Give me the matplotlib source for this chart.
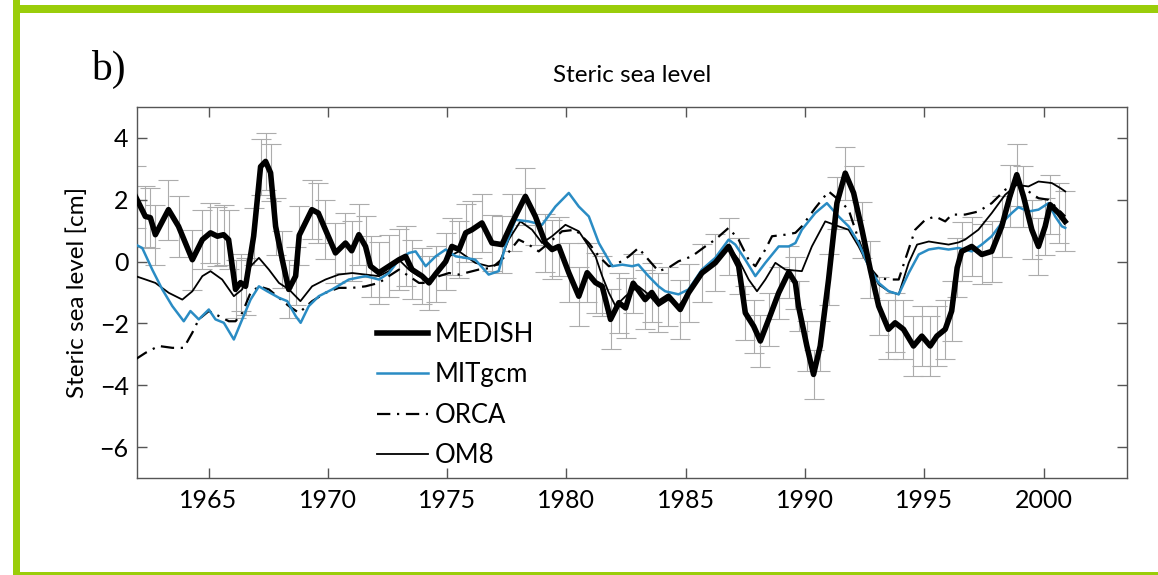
#!/usr/bin/env python3
"""Steric sea level: MEDISH (with error bars) against three ocean model runs."""
import numpy as np
import matplotlib
matplotlib.use("Agg")
import matplotlib.pyplot as plt

# ---- MEDISH (observational estimate) ----
medish_t = [1961.94, 1962.35, 1962.56, 1962.77, 1963.32, 1963.74, 1964.32, 1964.74,
            1965.08, 1965.37, 1965.63, 1965.84, 1966.13, 1966.34, 1966.55, 1966.89,
            1967.18, 1967.39, 1967.60, 1967.81, 1968.09, 1968.36, 1968.65, 1968.80,
            1969.33, 1969.60, 1969.90, 1970.32, 1970.74, 1971.00, 1971.30, 1971.58,
            1971.79, 1972.14, 1972.56, 1972.98, 1973.26, 1973.53, 1973.95, 1974.24,
            1974.52, 1974.94, 1975.20, 1975.50, 1975.78, 1976.04, 1976.46, 1976.88,
            1977.30, 1977.72, 1978.28, 1978.70, 1979.12, 1979.40, 1979.68, 1980.10,
            1980.52, 1980.87, 1981.22, 1981.50, 1981.85, 1982.20, 1982.48, 1982.80,
            1983.30, 1983.58, 1983.86, 1984.28, 1984.77, 1985.12, 1985.68, 1986.24,
            1986.80, 1987.22, 1987.50, 1987.85, 1988.13, 1988.48, 1988.90, 1989.32,
            1989.60, 1989.73, 1990.08, 1990.36, 1990.64, 1990.99, 1991.34, 1991.69,
            1992.04, 1992.39, 1992.74, 1993.09, 1993.50, 1993.78, 1994.13, 1994.55,
            1994.90, 1995.25, 1995.53, 1995.88, 1996.15, 1996.38, 1996.57, 1996.99,
            1997.41, 1997.83, 1998.25, 1998.59, 1998.88, 1999.16, 1999.51, 1999.79,
            2000.07, 2000.28, 2000.63, 2000.90]
medish_v = [2.10, 1.46, 1.42, 0.87, 1.68, 1.14, 0.06, 0.71,
            0.93, 0.82, 0.87, 0.71, -0.90, -0.68, -0.80, 0.82,
            3.07, 3.24, 2.87, 1.14, 0.06, -0.90, -0.47, 0.85,
            1.68, 1.57, 1.03, 0.28, 0.60, 0.35, 0.87, 0.49,
            -0.15, -0.36, -0.15, 0.06, 0.17, -0.26, -0.47, -0.69,
            -0.40, 0.00, 0.49, 0.39, 0.93, 1.03, 1.25, 0.60,
            0.55, 1.25, 2.11, 1.46, 0.60, 0.39, 0.49, -0.36,
            -1.12, -0.36, -0.68, -0.80, -1.87, -1.33, -1.50, -0.70,
            -1.23, -1.00, -1.33, -1.12, -1.55, -1.01, -0.37, -0.04,
            0.49, -0.15, -1.66, -2.09, -2.57, -1.87, -1.01, -0.34,
            -0.69, -1.44, -2.73, -3.65, -2.73, -0.58, 1.89, 2.86,
            2.22, 1.03, -0.26, -1.44, -2.19, -1.98, -2.19, -2.73,
            -2.41, -2.73, -2.41, -2.19, -1.60, -0.20, 0.33, 0.49,
            0.23, 0.33, 1.14, 2.11, 2.81, 2.11, 1.03, 0.49,
            1.14, 1.84, 1.57, 1.30]
medish_err = [1.00, 0.98, 0.97, 0.97, 0.97, 0.98, 0.97, 0.96,
              0.97, 0.96, 0.97, 0.95, 0.94, 0.93, 0.92, 0.92,
              0.91, 0.91, 0.92, 0.92, 0.93, 0.94, 0.95, 0.95,
              0.96, 0.96, 0.96, 0.97, 0.97, 0.97, 0.98, 0.98,
              0.98, 1.00, 1.00, 0.98, 0.97, 0.96, 0.90, 0.88,
              0.90, 0.92, 0.92, 0.93, 0.93, 0.93, 0.93, 0.92,
              0.92, 0.92, 0.92, 0.93, 0.94, 0.95, 0.96, 0.96,
              0.96, 0.96, 0.97, 0.97, 0.97, 0.97, 0.96, 0.96,
              0.95, 0.95, 0.95, 0.95, 0.95, 0.94, 0.93, 0.92,
              0.92, 0.90, 0.88, 0.86, 0.85, 0.85, 0.85, 0.84,
              0.83, 0.82, 0.81, 0.80, 0.80, 0.82, 0.84, 0.86,
              0.88, 0.90, 0.92, 0.94, 0.95, 0.96, 0.96, 0.97,
              0.97, 0.97, 0.97, 0.96, 0.96, 0.95, 0.95, 0.96,
              0.97, 0.98, 0.99, 1.00, 1.00, 0.98, 0.95, 0.91,
              0.93, 0.95, 0.96, 0.97]

# ---- MITgcm ----
mit_t = [1961.94, 1962.22, 1962.64, 1963.06, 1963.48, 1963.96, 1964.24, 1964.59,
         1965.01, 1965.29, 1965.64, 1966.06, 1966.41, 1966.76, 1967.11, 1967.46,
         1967.95, 1968.30, 1968.65, 1968.86, 1969.20, 1969.62, 1970.18, 1970.88,
         1971.58, 1972.14, 1972.56, 1972.98, 1973.40, 1973.68, 1974.10, 1974.52,
         1974.94, 1975.36, 1975.78, 1976.18, 1976.74, 1977.16, 1977.44, 1977.86,
         1978.42, 1978.98, 1979.54, 1980.10, 1980.52, 1980.94, 1981.36, 1981.92,
         1982.34, 1982.76, 1983.02, 1983.44, 1983.86, 1984.14, 1984.70, 1985.12,
         1985.68, 1986.24, 1986.80, 1987.08, 1987.50, 1987.92, 1988.34, 1988.90,
         1989.32, 1989.60, 1989.87, 1990.43, 1990.92, 1991.41, 1991.83, 1992.25,
         1992.67, 1993.09, 1993.51, 1993.93, 1994.35, 1994.77, 1995.19, 1995.60,
         1996.02, 1996.44, 1996.99, 1997.41, 1997.83, 1998.25, 1998.67, 1998.95,
         1999.37, 1999.79, 2000.21, 2000.49, 2000.77, 2000.91]
mit_v = [0.55, 0.44, -0.26, -0.90, -1.44, -1.93, -1.60, -1.87,
         -1.55, -1.87, -1.98, -2.52, -1.87, -1.23, -0.80, -0.96,
         -1.17, -1.28, -1.76, -1.98, -1.44, -1.12, -0.90, -0.58,
         -0.47, -0.58, -0.37, 0.06, 0.28, 0.33, -0.15, 0.17,
         0.39, 0.17, 0.12, 0.06, -0.42, -0.31, 0.49, 1.35,
         1.30, 1.19, 1.78, 2.22, 1.78, 1.46, 0.60, -0.15,
         -0.10, -0.15, -0.10, -0.47, -0.80, -0.96, -1.06, -0.90,
         -0.26, 0.12, 0.71, 0.55, 0.06, -0.47, -0.04, 0.49,
         0.49, 0.60, 1.03, 1.57, 1.89, 1.46, 1.14, 0.60,
         -0.15, -0.69, -0.96, -1.06, -0.37, 0.23, 0.39, 0.44,
         0.39, 0.44, 0.33, 0.55, 0.82, 1.25, 1.57, 1.76,
         1.62, 1.68, 1.89, 1.46, 1.14, 1.09]

# ---- ORCA ----
orca_t = [1961.94, 1962.36, 1962.91, 1963.48, 1963.96, 1964.32, 1964.59, 1965.01,
          1965.43, 1965.85, 1966.13, 1966.41, 1966.76, 1967.11, 1967.53, 1967.95,
          1968.37, 1968.79, 1969.34, 1969.90, 1970.46, 1971.02, 1971.58, 1972.14,
          1972.56, 1972.98, 1973.40, 1973.82, 1974.24, 1974.66, 1975.08, 1975.50,
          1976.32, 1976.88, 1977.44, 1978.00, 1978.42, 1978.84, 1979.26, 1979.82,
          1980.38, 1980.94, 1981.36, 1981.78, 1982.20, 1982.62, 1983.02, 1983.44,
          1983.86, 1984.28, 1984.70, 1985.26, 1985.82, 1986.24, 1986.80, 1987.22,
          1987.64, 1987.92, 1988.34, 1988.62, 1989.18, 1989.60, 1989.87, 1990.43,
          1990.99, 1991.41, 1991.83, 1992.25, 1992.67, 1993.09, 1993.51, 1993.93,
          1994.20, 1994.62, 1995.04, 1995.46, 1995.88, 1996.16, 1996.71, 1997.27,
          1997.83, 1998.39, 1998.88, 1999.37, 1999.79, 2000.21, 2000.63, 2000.91]
orca_v = [-3.16, -2.95, -2.73, -2.79, -2.79, -2.30, -1.87, -1.60,
          -1.76, -1.93, -1.93, -1.66, -1.01, -0.80, -0.90, -1.17,
          -1.44, -1.66, -1.28, -1.01, -0.85, -0.85, -0.80, -0.69,
          -0.47, -0.26, -0.47, -0.69, -0.69, -0.47, -0.37, -0.42,
          -0.26, -0.20, 0.17, 0.71, 0.55, 0.33, 0.60, 0.98,
          1.03, 0.60, 0.17, -0.15, -0.04, 0.17, 0.44, 0.06,
          -0.31, -0.20, 0.01, 0.17, 0.49, 0.71, 1.09, 0.71,
          0.06, -0.15, 0.39, 0.82, 0.87, 0.93, 1.14, 1.73,
          2.27, 2.00, 1.68, 0.71, -0.15, -0.53, -0.58, -0.58,
          0.06, 1.03, 1.35, 1.46, 1.30, 1.52, 1.52, 1.62,
          1.89, 2.32, 2.54, 2.27, 2.05, 2.00, 1.68, 1.46]

# ---- OM8 ----
om8_t = [1961.94, 1962.36, 1962.77, 1963.33, 1963.90, 1964.32, 1964.74, 1965.08,
         1965.57, 1966.06, 1966.41, 1966.76, 1967.11, 1967.53, 1967.95, 1968.37,
         1968.85, 1969.34, 1969.90, 1970.46, 1971.02, 1971.58, 1972.14, 1972.56,
         1972.98, 1973.40, 1973.82, 1974.24, 1974.66, 1975.08, 1975.50, 1976.18,
         1976.74, 1977.16, 1977.58, 1978.07, 1978.56, 1978.98, 1979.40, 1979.96,
         1980.52, 1980.94, 1981.22, 1981.50, 1981.78, 1982.06, 1982.48, 1983.02,
         1983.44, 1983.86, 1984.28, 1984.70, 1985.12, 1985.68, 1986.24, 1986.80,
         1987.22, 1987.64, 1987.99, 1988.34, 1988.76, 1989.18, 1989.87, 1990.29,
         1990.85, 1991.41, 1991.83, 1992.25, 1992.67, 1993.09, 1993.51, 1993.93,
         1994.35, 1994.70, 1995.19, 1995.60, 1996.02, 1996.44, 1996.71, 1997.27,
         1997.83, 1998.39, 1998.88, 1999.37, 1999.79, 2000.35, 2000.70, 2000.91]
om8_v = [-0.47, -0.58, -0.69, -1.01, -1.23, -0.96, -0.47, -0.31,
         -0.58, -1.12, -0.90, -0.15, 0.12, -0.26, -0.69, -0.90,
         -1.28, -0.80, -0.58, -0.42, -0.37, -0.42, -0.47, -0.31,
         0.06, -0.26, -0.47, -0.58, -0.26, 0.17, 0.33, -0.04,
         -0.15, -0.10, 0.71, 1.30, 1.03, 0.60, 0.82, 1.19,
         0.98, 0.49, 0.17, -0.47, -1.01, -1.44, -1.12, -0.80,
         -1.06, -1.44, -1.23, -1.44, -1.01, -0.26, 0.06, 0.49,
         0.06, -0.58, -0.96, -0.58, -0.04, -0.26, -0.31, 0.49,
         1.30, 1.14, 1.03, 0.49, -0.15, -0.74, -0.96, -1.06,
         -0.04, 0.55, 0.65, 0.60, 0.55, 0.62, 0.71, 1.03,
         1.57, 2.16, 2.48, 2.43, 2.59, 2.54, 2.38, 2.27]

xticks = [1965, 1970, 1975, 1980, 1985, 1990, 1995, 2000]
yticks = [4, 2, 0, -2, -4, -6]

plt.rcParams["font.family"] = ["Lato", "DejaVu Sans"]
plt.rcParams["axes.unicode_minus"] = True

W, H = 1158, 575
fig = plt.figure(figsize=(W / 100, H / 100), dpi=100)
fig.patch.set_facecolor("white")

# green frame around the panel
green = "#9acd0a"
fig.add_artist(plt.Rectangle((13 / W, 0), 7 / W, 1, color=green, lw=0,
                             transform=fig.transFigure))
fig.add_artist(plt.Rectangle((13 / W, 1 - 13 / H), 1, 8 / H, color=green, lw=0,
                             transform=fig.transFigure))
fig.add_artist(plt.Rectangle((13 / W, 0), 1, 3 / H, color=green, lw=0,
                             transform=fig.transFigure))

ax = fig.add_axes([137 / W, 1 - 478 / H, (1127 - 137) / W, (478 - 107) / H])

ax.errorbar(medish_t, medish_v, yerr=medish_err, fmt="none", ecolor="#acacac",
            elinewidth=0.8, capsize=7.2, capthick=0.8, zorder=1)
ax.plot(orca_t, orca_v, color="k", lw=1.6, ls=(0, (6, 3, 1, 3)), label="ORCA", zorder=3)
ax.plot(om8_t, om8_v, color="k", lw=1.3, label="OM8", zorder=3)
ax.plot(mit_t, mit_v, color="#2a8cc4", lw=1.8, label="MITgcm", zorder=4)
ax.plot(medish_t, medish_v, color="k", lw=4.0, label="MEDISH", zorder=5,
        solid_joinstyle="round")

ax.set_xlim(1962, 2003.5)
ax.set_ylim(-7, 5)
ax.set_xticks(xticks)
ax.set_yticks(yticks)
ax.tick_params(direction="in", length=7, width=1, color="#555555",
               top=True, right=True, labelsize=18)
ax.tick_params(axis="x", pad=8)
ax.tick_params(axis="y", pad=6)
for sp in ax.spines.values():
    sp.set_color("#555555")
    sp.set_linewidth(1.0)

ax.set_title("Steric sea level", fontsize=17.5, pad=18)
ax.set_ylabel("Steric sea level [cm]", fontsize=17.5, labelpad=8)

handles, labels = ax.get_legend_handles_labels()
order = ["MEDISH", "MITgcm", "ORCA", "OM8"]
hmap = dict(zip(labels, handles))
ax.legend([hmap[k] for k in order], order, loc="upper left",
          bbox_to_anchor=(377 / W, 1 - 322 / H), bbox_transform=fig.transFigure,
          frameon=False, fontsize=18.5, handlelength=2.0, handletextpad=0.25,
          labelspacing=0.6, borderpad=0, borderaxespad=0)

fig.text(91 / W, 1 - 80 / H, "b)", family=["Liberation Serif", "DejaVu Serif"],
         fontsize=30, ha="left", va="baseline")

fig.savefig("out.png", dpi=100, facecolor="white")
